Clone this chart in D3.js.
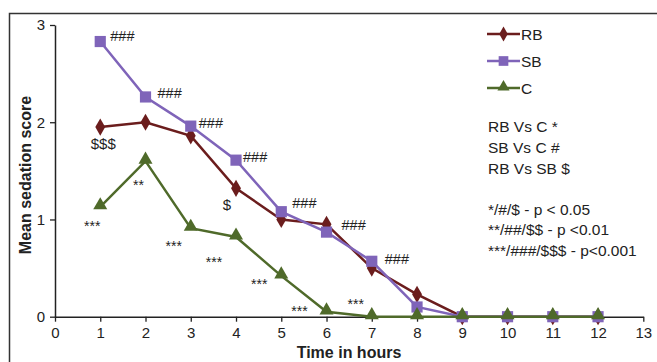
<!DOCTYPE html>
<html>
<head>
<meta charset="utf-8">
<script src="https://cdn.jsdelivr.net/npm/d3@7"></script>
<style>
  html, body { margin: 0; padding: 0; background: #fff; }
  svg { display: block; font-family: "Liberation Sans", Arial, Helvetica, sans-serif; }
</style>
</head>
<body>
<svg id="chart" width="657" height="362"></svg>
<script>
// ---- data ----
const hours = [1, 2, 3, 4, 5, 6, 7, 8, 9, 10, 11, 12];
const rbValues = [1.95, 2.00, 1.86, 1.32, 1.00, 0.95, 0.50, 0.23, 0, 0, 0, 0];
const sbValues = [2.83, 2.26, 1.96, 1.61, 1.08, 0.87, 0.57, 0.10, 0, 0, 0, 0];
const cValues  = [1.13, 1.60, 0.91, 0.82, 0.42, 0.05, 0, 0, 0, 0, 0, 0];
const xTicks = [0, 1, 2, 3, 4, 5, 6, 7, 8, 9, 10, 11, 12, 13];
const yTicks = [0, 1, 2, 3];
const seriesNames = ["RB", "SB", "C"];
// significance marks: [hour, label]
const sbMarks = [[1, "###"], [2, "###"], [3, "###"], [4, "###"], [5, "###"], [6, "###"], [7, "###"]];
const rbMarks = [[1, "$$$"], [4, "$"]];
const cMarks  = [[1, "***"], [2, "**"], [3, "***"], [4, "***"], [5, "***"], [6, "***"], [7, "***"]];
const compareLines = ["RB Vs C *", "SB Vs C #", "RB Vs SB $"];
const pLines = ["*/#/$ - p < 0.05", "**/##/$$ - p <0.01", "***/###/$$$ - p<0.001"];

// ---- layout / style ----
const colors = { RB: "#6B1D1D", SB: "#7F64B9", C: "#4F6A2A" };
const textColor = "#222";
const svg = d3.select("#chart");

const x = d3.scaleLinear().domain([0, 13]).range([55, 643.3]);
const y = d3.scaleLinear().domain([0, 3]).range([316.7, 25]);

// frame
svg.append("path")
  .attr("d", "M9.5,362 V13.5 H657")
  .attr("fill", "none").attr("stroke", "#333").attr("stroke-width", 1.5);

// axes
const xAxis = svg.append("g").attr("transform", `translate(0,${y(0)})`)
  .call(d3.axisBottom(x).tickValues(xTicks).tickSize(5).tickSizeOuter(0).tickPadding(6).tickFormat(d3.format("d")));
const yAxis = svg.append("g").attr("transform", `translate(${x(0)},0)`)
  .call(d3.axisLeft(y).tickValues(yTicks).tickSize(5).tickSizeOuter(0).tickPadding(5).tickFormat(d3.format("d")));
[xAxis, yAxis].forEach(g => {
  g.select(".domain").attr("stroke", "#222").attr("stroke-width", 1.5);
  g.selectAll(".tick line").attr("stroke", "#222").attr("stroke-width", 1.3);
  g.selectAll(".tick text").attr("fill", textColor).attr("font-size", 15)
    .attr("font-family", "'Liberation Sans', Arial, sans-serif");
});

// axis titles
svg.append("text").attr("x", 349).attr("y", 358)
  .attr("text-anchor", "middle").attr("font-weight", "bold").attr("font-size", 16)
  .attr("fill", textColor).text("Time in hours");
svg.append("text").attr("transform", "translate(25,175) rotate(-90)")
  .attr("text-anchor", "middle").attr("dominant-baseline", "central")
  .attr("font-weight", "bold").attr("font-size", 16)
  .attr("fill", textColor).text("Mean sedation score");

// series
const series = [
  { name: "RB", values: rbValues, symbol: d3.symbolDiamond, size: 85 },
  { name: "SB", values: sbValues, symbol: d3.symbolSquare, size: 125 },
  { name: "C",  values: cValues,  symbol: d3.symbolTriangle, size: 85 }
];
const line = d3.line().x(d => x(d[0])).y(d => y(d[1]));

series.forEach(s => {
  const pts = hours.map((h, i) => [h, s.values[i]]);
  const g = svg.append("g");
  g.append("path").datum(pts).attr("d", line)
    .attr("fill", "none").attr("stroke", colors[s.name]).attr("stroke-width", 2.5);
  g.selectAll("path.m").data(pts).join("path").attr("class", "m")
    .attr("transform", d => `translate(${x(d[0])},${y(d[1]) - (s.name === "C" ? 1.5 : 0)})`)
    .attr("d", d3.symbol().type(s.symbol).size(s.size))
    .attr("fill", colors[s.name]);
});

// annotation offsets (layout)
const sbOff = [[10, -6], [12, -4], [8, -3], [7, -3], [11, -9], [15, -7], [13, -2]];
const rbOff = [[3, 16], [-9, 16]];
const cOff  = [[-8, 16], [-7, 21], [-17, 15], [-22, 22], [-22, 5], [-27, -4], [-16, -16]];

function val(arr, h) { return arr[hours.indexOf(h)]; }

svg.append("g").selectAll("text").data(sbMarks).join("text")
  .attr("x", (d, i) => x(d[0]) + sbOff[i][0])
  .attr("y", (d, i) => y(val(sbValues, d[0])) + sbOff[i][1])
  .attr("dominant-baseline", "central").attr("font-size", 14.5).attr("fill", textColor)
  .text(d => d[1]);

svg.append("g").selectAll("text").data(rbMarks).join("text")
  .attr("x", (d, i) => x(d[0]) + rbOff[i][0])
  .attr("y", (d, i) => y(val(rbValues, d[0])) + rbOff[i][1])
  .attr("text-anchor", "middle").attr("dominant-baseline", "central")
  .attr("font-size", 15).attr("fill", textColor)
  .text(d => d[1]);

svg.append("g").selectAll("text").data(cMarks).join("text")
  .attr("x", (d, i) => x(d[0]) + cOff[i][0])
  .attr("y", (d, i) => y(val(cValues, d[0])) + cOff[i][1] + 8)
  .attr("text-anchor", "middle")
  .attr("font-size", 14).attr("fill", textColor)
  .text(d => d[1]);

// legend
const legend = svg.append("g");
series.forEach((s, i) => {
  const ly = 34 + i * 27;
  legend.append("line").attr("x1", 487).attr("x2", 520).attr("y1", ly).attr("y2", ly)
    .attr("stroke", colors[s.name]).attr("stroke-width", 2.5);
  legend.append("path").attr("transform", `translate(503.5,${ly - (s.name === "C" ? 1 : 0)})`)
    .attr("d", d3.symbol().type(s.symbol).size(s.size * 0.75)).attr("fill", colors[s.name]);
  legend.append("text").attr("x", 521).attr("y", ly).attr("dominant-baseline", "central")
    .attr("font-size", 15.5).attr("fill", textColor).text(seriesNames[i]);
});

svg.append("g").selectAll("text").data(compareLines).join("text")
  .attr("x", 488).attr("y", (d, i) => 126 + i * 21)
  .attr("dominant-baseline", "central").attr("font-size", 15.5).attr("fill", textColor)
  .text(d => d);

svg.append("g").selectAll("text").data(pLines).join("text")
  .attr("x", 488).attr("y", (d, i) => 209 + i * 20.5)
  .attr("dominant-baseline", "central").attr("font-size", 15.5).attr("fill", textColor)
  .text(d => d);
</script>
</body>
</html>
